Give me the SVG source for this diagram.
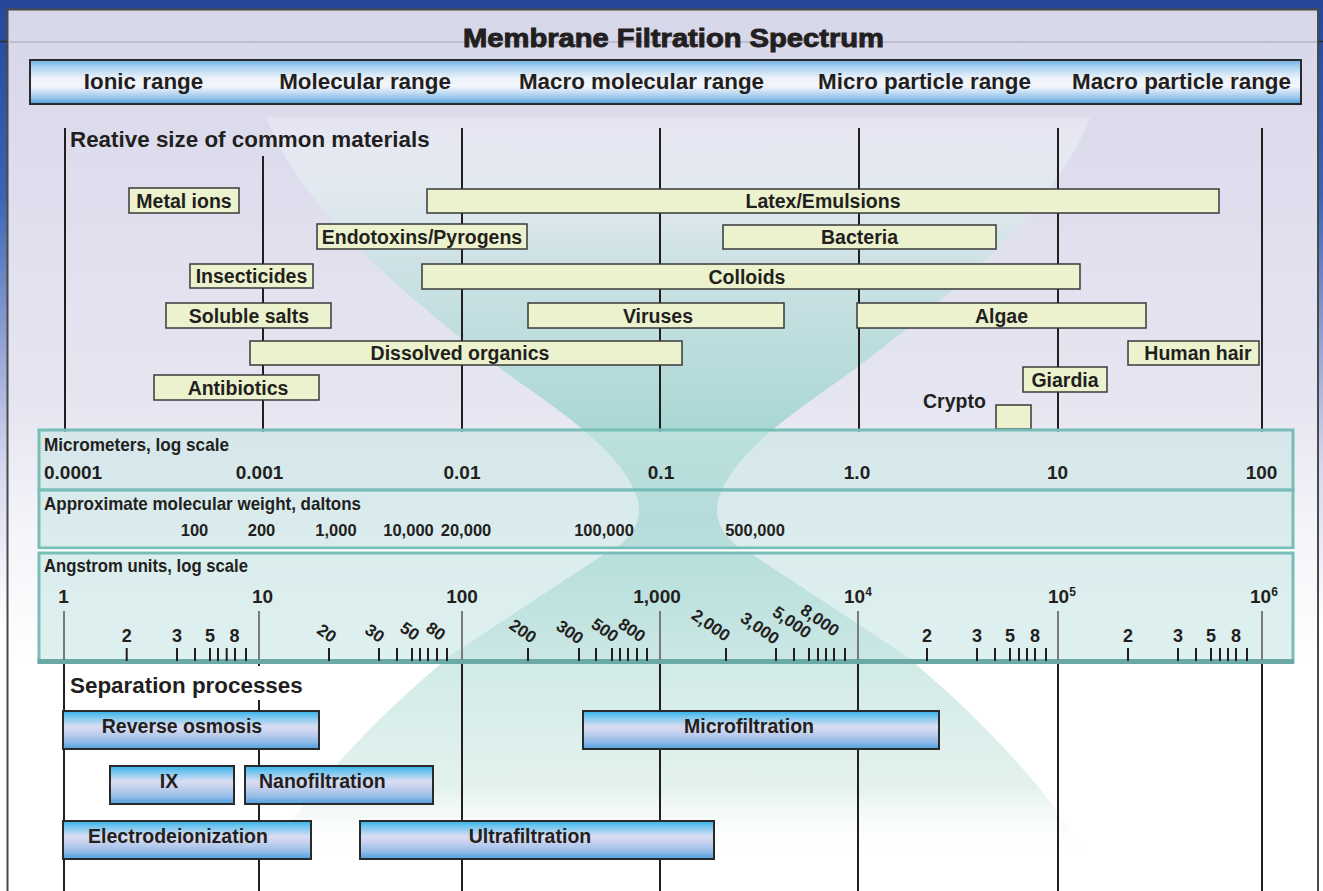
<svg xmlns="http://www.w3.org/2000/svg" width="1323" height="891" viewBox="0 0 1323 891">
  <defs>
    <linearGradient id="outerBg" x1="0" y1="0" x2="0" y2="891" gradientUnits="userSpaceOnUse">
      <stop offset="0" stop-color="#24479a"/>
      <stop offset="0.22" stop-color="#3a64b2"/>
      <stop offset="0.4" stop-color="#9aa8d8"/>
      <stop offset="0.52" stop-color="#d4d6ee"/>
      <stop offset="0.7" stop-color="#ffffff"/>
    </linearGradient>
    <linearGradient id="panelBg" x1="0" y1="9" x2="0" y2="891" gradientUnits="userSpaceOnUse">
      <stop offset="0" stop-color="#d7d7ea"/>
      <stop offset="0.45" stop-color="#e6e6f2"/>
      <stop offset="0.6" stop-color="#f5f5fa"/>
      <stop offset="0.74" stop-color="#ffffff"/>
    </linearGradient>
    <linearGradient id="hdrGrad" x1="0" y1="0" x2="0" y2="1">
      <stop offset="0" stop-color="#6fb0e2"/>
      <stop offset="0.15" stop-color="#a9d0f0"/>
      <stop offset="0.42" stop-color="#eef3fa"/>
      <stop offset="0.6" stop-color="#f2f5fb"/>
      <stop offset="0.85" stop-color="#9cc8ec"/>
      <stop offset="1" stop-color="#4f9bda"/>
    </linearGradient>
    <linearGradient id="procGrad" x1="0" y1="0" x2="0" y2="1">
      <stop offset="0" stop-color="#33b1ea"/>
      <stop offset="0.14" stop-color="#70c5ef"/>
      <stop offset="0.4" stop-color="#d8ddf2"/>
      <stop offset="0.55" stop-color="#c9d2ee"/>
      <stop offset="0.8" stop-color="#94bde8"/>
      <stop offset="1" stop-color="#4e9fdc"/>
    </linearGradient>
    <linearGradient id="hourGrad" x1="0" y1="117" x2="0" y2="880" gradientUnits="userSpaceOnUse">
      <stop offset="0" stop-color="#ffffff" stop-opacity="0.25"/>
      <stop offset="0.17" stop-color="#cfe3e6" stop-opacity="0.9"/>
      <stop offset="0.41" stop-color="#a9d7d4"/>
      <stop offset="0.53" stop-color="#98cecb"/>
      <stop offset="0.63" stop-color="#b0dcd8"/>
      <stop offset="0.72" stop-color="#d2ebe7"/>
      <stop offset="0.88" stop-color="#e4f2ef"/>
      <stop offset="0.97" stop-color="#ffffff" stop-opacity="0"/>
    </linearGradient>
    <style>
      .t { font-family: "Liberation Sans", Arial, Helvetica, sans-serif; font-weight: bold; fill: #231f20; }
      .title { font-size: 25px; text-anchor: middle; stroke: #231f20; stroke-width: 0.9; }
      .hdr { font-size: 22.4px; text-anchor: middle; }
      .sec { font-size: 22.4px; }
      .lbl { font-size: 19.5px; text-anchor: middle; }
      .scl { font-size: 19px; }
      .num { font-size: 19px; text-anchor: middle; }
      .mw { font-size: 16.5px; text-anchor: middle; }
      .minor { font-size: 18px; text-anchor: middle; }
      .rot { font-size: 17px; text-anchor: middle; }
      .sup { font-size: 12px; }
      .mat rect { fill: #ebf2cd; stroke: #3a3a3a; stroke-width: 1.5; }
      .proc rect { fill: url(#procGrad); stroke: #2a2a2a; stroke-width: 2; }
      .grid line { stroke: #231f20; stroke-width: 2; }
      .band { fill: rgba(200,230,228,0.6); stroke: #79bdb8; stroke-width: 3; }
      .tick { stroke: #231f20; stroke-width: 2; }
      .major { stroke: #7a7a7a; stroke-width: 2; }
    </style>
  </defs>

  <!-- frame and panel -->
  <rect x="0" y="0" width="1323" height="891" fill="url(#outerBg)"/>
  <rect x="7.5" y="9.5" width="1310.5" height="890" fill="url(#panelBg)" stroke="#4a4a4a" stroke-width="2"/>
  <line x1="8.5" y1="42" x2="1317" y2="42" stroke="#b4b4c6" stroke-width="1.5"/>
  <line x1="0" y1="41.5" x2="7" y2="41.5" stroke="#2a2a2a" stroke-width="1.5"/>
  <line x1="1318.5" y1="41.5" x2="1323" y2="41.5" stroke="#2a2a2a" stroke-width="1.5"/>

  <!-- hourglass backdrop -->
  <path id="hourglass" fill="url(#hourGrad)" d="M 266 117 L 1090 117 C 1060 200, 960 290, 860 365 C 815 400, 735 445, 718 500 C 714 520, 722 540, 750 553 L 905 655 C 940 685, 1030 760, 1090 860 L 1090 880 L 266 880 L 266 860 C 326 760, 416 685, 451 655 L 606 553 C 634 540, 642 520, 638 500 C 621 445, 541 400, 496 365 C 396 290, 296 200, 266 117 Z"/>

  <!-- title and range header -->
  <g id="title">
    <text class="t title" x="673.5" y="47" textLength="421" lengthAdjust="spacingAndGlyphs">Membrane Filtration Spectrum</text>
  </g>
  <g id="range-header">
    <rect x="30" y="60" width="1271" height="44" fill="url(#hdrGrad)" stroke="#2a2a2a" stroke-width="2"/>
    <text class="t hdr" x="143.5" y="88.5">Ionic range</text>
    <text class="t hdr" x="365" y="88.5">Molecular range</text>
    <text class="t hdr" x="641.5" y="88.5">Macro molecular range</text>
    <text class="t hdr" x="924.5" y="88.5">Micro particle range</text>
    <text class="t hdr" x="1181.5" y="88.5">Macro particle range</text>
  </g>

  <!-- decade grid lines -->
  <g id="connectors" class="grid">
    <line x1="65" y1="128" x2="65" y2="432"/>
    <line x1="263" y1="156" x2="263" y2="432"/>
    <line x1="462" y1="128" x2="462" y2="432"/>
    <line x1="660" y1="128" x2="660" y2="432"/>
    <line x1="859" y1="128" x2="859" y2="432"/>
    <line x1="1058" y1="128" x2="1058" y2="432"/>
    <line x1="1262" y1="128" x2="1262" y2="432"/>
    <line x1="64" y1="662" x2="64" y2="891"/>
    <line x1="259" y1="662" x2="259" y2="666"/>
    <line x1="259" y1="700" x2="259" y2="891"/>
    <line x1="462" y1="662" x2="462" y2="891"/>
    <line x1="660" y1="662" x2="660" y2="891"/>
    <line x1="858" y1="662" x2="858" y2="891"/>
    <line x1="1058" y1="662" x2="1058" y2="891"/>
    <line x1="1262" y1="662" x2="1262" y2="891"/>
  </g>

  <text class="t sec" x="70" y="147">Reative size of common materials</text>

  <!-- common materials -->
  <g id="metal-ions" class="mat"><rect x="129" y="188" width="110" height="25"/><text class="t lbl" x="184" y="207.5">Metal ions</text></g>
  <g id="latex-emulsions" class="mat"><rect x="427" y="189" width="792" height="24"/><text class="t lbl" x="823" y="208">Latex/Emulsions</text></g>
  <g id="endotoxins-pyrogens" class="mat"><rect x="317" y="224" width="210" height="25"/><text class="t lbl" x="422" y="243.5">Endotoxins/Pyrogens</text></g>
  <g id="bacteria" class="mat"><rect x="723" y="225" width="273" height="24"/><text class="t lbl" x="859.5" y="244">Bacteria</text></g>
  <g id="insecticides" class="mat"><rect x="190" y="264" width="123" height="24"/><text class="t lbl" x="251.5" y="283">Insecticides</text></g>
  <g id="colloids" class="mat"><rect x="422" y="264" width="658" height="25"/><text class="t lbl" x="747" y="283.5">Colloids</text></g>
  <g id="soluble-salts" class="mat"><rect x="166" y="303" width="165" height="25"/><text class="t lbl" x="249" y="322.5">Soluble salts</text></g>
  <g id="viruses" class="mat"><rect x="528" y="303" width="256" height="25"/><text class="t lbl" x="658" y="322.5">Viruses</text></g>
  <g id="algae" class="mat"><rect x="857" y="303" width="289" height="25"/><text class="t lbl" x="1001.5" y="322.5">Algae</text></g>
  <g id="dissolved-organics" class="mat"><rect x="250" y="341" width="432" height="24"/><text class="t lbl" x="460" y="360">Dissolved organics</text></g>
  <g id="human-hair" class="mat"><rect x="1128" y="341" width="131" height="24"/><text class="t lbl" x="1198" y="360">Human hair</text></g>
  <g id="antibiotics" class="mat"><rect x="154" y="375" width="165" height="25"/><text class="t lbl" x="238" y="394.5">Antibiotics</text></g>
  <g id="giardia" class="mat"><rect x="1023" y="367" width="84" height="25"/><text class="t lbl" x="1065" y="386.5">Giardia</text></g>
  <g id="crypto" class="mat"><rect x="996" y="405" width="35" height="24"/><text class="t lbl" x="923" y="408" style="text-anchor:start">Crypto</text></g>

  <!-- scale bands -->
  <g id="scale-micrometers">
    <rect class="band" x="39" y="430" width="1254" height="60"/>
    <text class="t scl" x="44" y="451" textLength="185" lengthAdjust="spacingAndGlyphs">Micrometers, log scale</text>
    <text class="t num" x="44" y="479" style="text-anchor:start">0.0001</text>
    <text class="t num" x="259.5" y="479">0.001</text>
    <text class="t num" x="462" y="479">0.01</text>
    <text class="t num" x="661" y="479">0.1</text>
    <text class="t num" x="857" y="479">1.0</text>
    <text class="t num" x="1057.5" y="479">10</text>
    <text class="t num" x="1261.5" y="479">100</text>
  </g>
  <g id="scale-daltons">
    <rect class="band" x="39" y="490" width="1254" height="58"/>
    <text class="t scl" x="44" y="510" textLength="317" lengthAdjust="spacingAndGlyphs">Approximate molecular weight, daltons</text>
    <text class="t mw" x="194.5" y="536">100</text>
    <text class="t mw" x="261.5" y="536">200</text>
    <text class="t mw" x="336" y="536">1,000</text>
    <text class="t mw" x="408.5" y="536">10,000</text>
    <text class="t mw" x="466" y="536">20,000</text>
    <text class="t mw" x="604" y="536">100,000</text>
    <text class="t mw" x="755" y="536">500,000</text>
  </g>
  <rect x="37" y="549.3" width="1258" height="2.6" fill="#ffffff"/>
  <g id="scale-angstrom">
    <rect class="band" x="39" y="553" width="1254" height="109"/>
    <line x1="37.5" y1="661.5" x2="1294" y2="661.5" stroke="#6aa9a6" stroke-width="5"/>
    <text class="t scl" x="44" y="572" textLength="204" lengthAdjust="spacingAndGlyphs">Angstrom units, log scale</text>
    <text class="t num" x="63.5" y="603">1</text>
    <text class="t num" x="262.5" y="603">10</text>
    <text class="t num" x="462" y="603">100</text>
    <text class="t num" x="657" y="603">1,000</text>
    <text class="t num" x="844" y="603" style="text-anchor:start">10<tspan class="sup" dy="-7">4</tspan></text>
    <text class="t num" x="1048" y="603" style="text-anchor:start">10<tspan class="sup" dy="-7">5</tspan></text>
    <text class="t num" x="1250" y="603" style="text-anchor:start">10<tspan class="sup" dy="-7">6</tspan></text>

    <g class="major">
      <line x1="64" y1="611" x2="64" y2="660"/>
      <line x1="259" y1="611" x2="259" y2="660"/>
      <line x1="462" y1="611" x2="462" y2="660"/>
      <line x1="660" y1="611" x2="660" y2="660"/>
      <line x1="858" y1="611" x2="858" y2="660"/>
      <line x1="1058" y1="611" x2="1058" y2="660"/>
      <line x1="1262" y1="611" x2="1262" y2="660"/>
    </g>
    <path class="tick" d="M126.7 648V661M177 648V661M195 648V661M210 648V661M218 648V661M226.7 648V661M235 648V661M246 648V661
      M329 648V661M379 648V661M397 648V661M412 648V661M420 648V661M428 648V661M437 648V661M447 648V661
      M528 648V661M579 648V661M596 648V661M612 648V661M620 648V661M628 648V661M637 648V661M647 648V661
      M726 648V661M776 648V661M794 648V661M809 648V661M818 648V661M826 648V661M834 648V661M845 648V661
      M927 648V661M977 648V661M995 648V661M1010 648V661M1019 648V661M1027 648V661M1035 648V661M1046 648V661
      M1128 648V661M1178 648V661M1196 648V661M1211 648V661M1220 648V661M1228 648V661M1236 648V661M1247 648V661"/>

    <text class="t minor" x="126.7" y="642">2</text>
    <text class="t minor" x="177" y="642">3</text>
    <text class="t minor" x="210" y="642">5</text>
    <text class="t minor" x="234.5" y="642">8</text>
    <text class="t minor" x="927" y="642">2</text>
    <text class="t minor" x="977" y="642">3</text>
    <text class="t minor" x="1010" y="642">5</text>
    <text class="t minor" x="1035" y="642">8</text>
    <text class="t minor" x="1128" y="642">2</text>
    <text class="t minor" x="1178" y="642">3</text>
    <text class="t minor" x="1211" y="642">5</text>
    <text class="t minor" x="1236" y="642">8</text>

    <text class="t rot" x="327" y="639" transform="rotate(35 327 633)">20</text>
    <text class="t rot" x="375" y="639" transform="rotate(35 375 633)">30</text>
    <text class="t rot" x="410" y="637" transform="rotate(35 410 631)">50</text>
    <text class="t rot" x="436" y="637" transform="rotate(35 436 631)">80</text>
    <text class="t rot" x="523" y="637" transform="rotate(35 523 631)">200</text>
    <text class="t rot" x="570" y="638" transform="rotate(35 570 632)">300</text>
    <text class="t rot" x="605" y="636" transform="rotate(35 605 630)">500</text>
    <text class="t rot" x="632" y="636" transform="rotate(35 632 630)">800</text>
    <text class="t rot" x="711" y="631" transform="rotate(35 711 625)">2,000</text>
    <text class="t rot" x="760" y="634" transform="rotate(35 760 628)">3,000</text>
    <text class="t rot" x="792" y="628" transform="rotate(35 792 622)">5,000</text>
    <text class="t rot" x="820" y="626" transform="rotate(35 820 620)">8,000</text>
  </g>

  <text class="t sec" x="70" y="693">Separation processes</text>

  <!-- separation processes -->
  <g id="reverse-osmosis" class="proc"><rect x="63" y="711" width="256" height="38"/><text class="t lbl" x="182" y="733">Reverse osmosis</text></g>
  <g id="microfiltration" class="proc"><rect x="583" y="711" width="356" height="38"/><text class="t lbl" x="749" y="733">Microfiltration</text></g>
  <g id="ix" class="proc"><rect x="110" y="766" width="124" height="38"/><text class="t lbl" x="169" y="788">IX</text></g>
  <g id="nanofiltration" class="proc"><rect x="245" y="766" width="188" height="38"/><text class="t lbl" x="259" y="788" style="text-anchor:start">Nanofiltration</text></g>
  <g id="electrodeionization" class="proc"><rect x="63" y="821" width="248" height="38"/><text class="t lbl" x="178" y="843">Electrodeionization</text></g>
  <g id="ultrafiltration" class="proc"><rect x="360" y="821" width="354" height="38"/><text class="t lbl" x="530" y="843">Ultrafiltration</text></g>
</svg>
